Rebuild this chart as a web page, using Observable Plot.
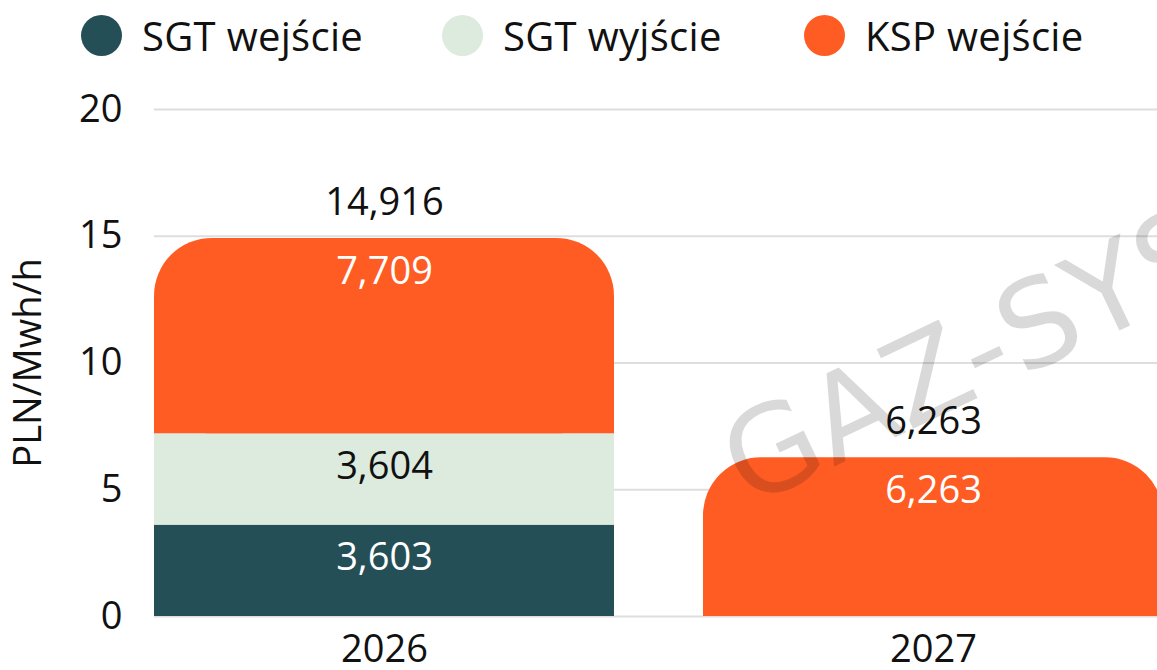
<!DOCTYPE html>
<html>
<head>
<meta charset="utf-8">
<script src="https://cdn.jsdelivr.net/npm/d3@7"></script>
<script src="https://cdn.jsdelivr.net/npm/@observablehq/plot@0.6"></script>
<style>
  html, body { margin: 0; padding: 0; background: #ffffff; overflow: hidden; }
  #wrap { position: relative; width: 1157px; height: 670px; font-family: "Open Sans", sans-serif; color: #111; }
  #chart { position: absolute; left: 0; top: 0; }
  .lg-item { position: absolute; top: 15px; height: 41px; display: flex; align-items: center; white-space: nowrap; }
  .lg-dot { width: 41px; height: 41px; border-radius: 50%; margin-right: 20px; flex: none; }
  .lg-text { font-size: 40px; line-height: 41px; letter-spacing: 0.3px; }
  #wm { position: absolute; left: 746px; top: 503px; font-size: 120px; letter-spacing: 0.01em; color: rgba(0,0,0,0.15);
        transform-origin: 0 0; transform: rotate(-25.5deg) translate(0, -0.8em); white-space: nowrap; pointer-events: none;
        font-family: "DejaVu Sans", sans-serif; line-height: 1; }
</style>
</head>
<body>
<div id="wrap">
  <div id="chart"></div>
  <div id="legend"></div>
  <div id="wm">GAZ-SYSTEM</div>
</div>
<script>
// ---- data ----
const years = ["2026", "2027"];
const seriesNames = ["SGT wejście", "SGT wyjście", "KSP wejście"];
const sgtEntry = [3.603, 0];
const sgtExit = [3.604, 0];
const kspEntry = [7.709, 6.263];
const totals = [14.916, 6.263];
const yTicks = [0, 5, 10, 15, 20];
const colors = ["#254f56", "#dcebdd", "#ff5c24"];
const yLabel = "PLN/Mwh/h";

// ---- build stacked table ----
const seriesValues = [sgtEntry, sgtExit, kspEntry];
const fmt = v => v.toFixed(3).replace(".", ",");
const segs = [];
years.forEach((year, i) => {
  let acc = 0;
  seriesNames.forEach((s, k) => {
    const v = seriesValues[k][i];
    if (v > 0) {
      segs.push({year, series: s, k, y1: acc, y2: acc + v, ymid: acc + v / 2, label: fmt(v)});
      acc += v;
    }
  });
});
const totalRows = years.map((year, i) => ({year, total: totals[i], label: fmt(totals[i])}));
const flatSegs = segs.filter(d => d.k !== 2);
const topSegs = segs.filter(d => d.k === 2);

// ---- legend ----
const legendLefts = [81, 442, 804];
const legend = document.getElementById("legend");
seriesNames.forEach((s, k) => {
  const item = document.createElement("div");
  item.className = "lg-item";
  item.style.left = legendLefts[k] + "px";
  const dot = document.createElement("span");
  dot.className = "lg-dot";
  dot.style.background = colors[k];
  const txt = document.createElement("span");
  txt.className = "lg-text";
  txt.textContent = s;
  item.appendChild(dot);
  item.appendChild(txt);
  legend.appendChild(item);
});

// ---- chart ----
const textStyle = {fontSize: 38, fontWeight: 400};
const chart = Plot.plot({
  width: 1157,
  height: 670,
  marginTop: 109,
  marginBottom: 54,
  marginLeft: 154,
  marginRight: 0,
  style: {fontFamily: '"Open Sans", sans-serif', fontSize: "38px", color: "#111111", background: "transparent", overflow: "visible"},
  x: {domain: years, range: [154, 1163], paddingInner: 0.163, paddingOuter: 0, align: 0},
  y: {domain: [0, 20]},
  color: {domain: seriesNames, range: colors},
  marks: [
    Plot.gridY(yTicks, {stroke: "#dedede", strokeOpacity: 1, strokeWidth: 2}),
    Plot.barY(flatSegs, {x: "year", y1: "y1", y2: "y2", fill: "series"}),
    Plot.barY(topSegs, {x: "year", y1: "y1", y2: "y2", fill: "series", rx: 58}),
    Plot.barY(topSegs, {x: "year", y1: "y1", y2: "y2", fill: "series", insetTop: 58}),
    Plot.axisY({ticks: yTicks, tickSize: 0, tickPadding: 32, label: yLabel, labelAnchor: "center", labelOffset: 140, labelArrow: "none", fontSize: 38}),
    Plot.axisX({tickSize: 0, tickPadding: 19, label: null, fontSize: 38}),
    Plot.text(segs.filter(d => d.k === 0), {x: "year", y: "ymid", text: "label", fill: "#ffffff", dy: -13, ...textStyle}),
    Plot.text(segs.filter(d => d.k === 1), {x: "year", y: "ymid", text: "label", fill: "#111111", dy: -13, ...textStyle}),
    Plot.text(topSegs, {x: "year", y: "y2", text: "label", fill: "#ffffff", dy: 33, ...textStyle}),
    Plot.text(totalRows, {x: "year", y: "total", text: "label", fill: "#111111", dy: -36, ...textStyle})
  ]
});
document.getElementById("chart").appendChild(chart);
</script>
</body>
</html>
